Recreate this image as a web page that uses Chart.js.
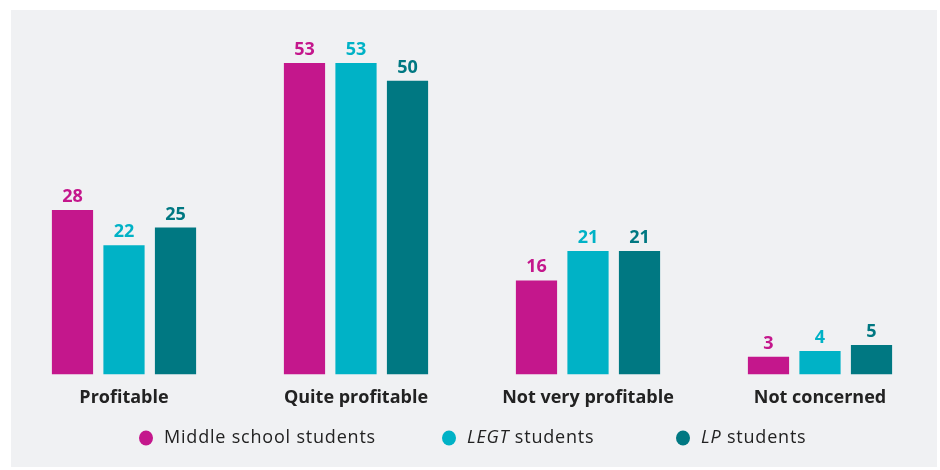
<!DOCTYPE html>
<html>
<head>
<meta charset="utf-8">
<script src="https://cdn.jsdelivr.net/npm/chart.js@4.4.0/dist/chart.umd.min.js"></script>
<style>
  html, body { margin: 0; padding: 0; background: #fff; }
  #wrap { width: 940px; height: 470px; position: relative; }
</style>
</head>
<body>
<div id="wrap"><canvas id="chart" width="940" height="470"></canvas></div>
<script>
// Data
const categories = ['Profitable', 'Quite profitable', 'Not very profitable', 'Not concerned'];
const middleSchool = [28, 53, 16, 3];
const legtStudents = [22, 53, 21, 4];
const lpStudents = [25, 50, 21, 5];
const seriesNames = [
  [{t: 'Middle school students', i: false}],
  [{t: 'LEGT', i: true}, {t: ' students', i: false}],
  [{t: 'LP', i: true}, {t: ' students', i: false}]
];
const colors = ['#c4178c', '#00b2c6', '#007882'];
const FONT = '"Open Sans", sans-serif';

// panel background
const panelBg = {
  id: 'panelBg',
  beforeDraw(chart) {
    const {ctx} = chart;
    ctx.save();
    ctx.fillStyle = '#f0f1f3';
    ctx.fillRect(11, 10, 926, 457);
    ctx.restore();
  }
};

// value labels over bars
const valueLabels = {
  id: 'valueLabels',
  afterDatasetsDraw(chart) {
    const {ctx} = chart;
    ctx.save();
    ctx.font = 'bold 18px ' + FONT;
    ctx.textAlign = 'center';
    ctx.textBaseline = 'alphabetic';
    chart.data.datasets.forEach((ds, i) => {
      const meta = chart.getDatasetMeta(i);
      ctx.fillStyle = colors[i];
      meta.data.forEach((bar, j) => {
        ctx.fillText(ds.data[j], bar.x, bar.y - 8);
      });
    });
    ctx.restore();
  }
};

// legend with italic parts
const customLegend = {
  id: 'customLegend',
  afterDraw(chart) {
    const {ctx} = chart;
    const xs = [146, 449, 683];
    const y = 438;
    ctx.save();
    ctx.textBaseline = 'middle';
    ctx.letterSpacing = '0.8px';
    seriesNames.forEach((parts, i) => {
      ctx.fillStyle = colors[i];
      ctx.beginPath();
      ctx.ellipse(xs[i], y, 7, 7.5, 0, 0, Math.PI * 2);
      ctx.fill();
      let x = xs[i] + 18;
      ctx.fillStyle = '#222';
      parts.forEach(p => {
        ctx.font = (p.i ? 'italic ' : '') + '18px ' + FONT;
        ctx.fillText(p.t, x, y);
        x += ctx.measureText(p.t).width;
      });
    });
    ctx.restore();
  }
};

new Chart(document.getElementById('chart').getContext('2d'), {
  type: 'bar',
  data: {
    labels: categories,
    datasets: [
      {label: 'Middle school students', data: middleSchool, backgroundColor: colors[0]},
      {label: 'LEGT students', data: legtStudents, backgroundColor: colors[1]},
      {label: 'LP students', data: lpStudents, backgroundColor: colors[2]}
    ]
  },
  options: {
    responsive: false,
    animation: false,
    layout: {padding: {top: 22, left: 8, right: 4, bottom: 48}},
    categoryPercentage: 0.666,
    barPercentage: 0.8,
    plugins: {legend: {display: false}, tooltip: {enabled: false}},
    scales: {
      x: {
        grid: {display: false, drawTicks: false},
        border: {display: false},
        ticks: {color: '#222', padding: 13, font: {family: FONT, size: 18, weight: 'bold'}}
      },
      y: {
        display: false,
        min: 0,
        max: 60
      }
    }
  },
  plugins: [panelBg, valueLabels, customLegend]
});
</script>
</body>
</html>
